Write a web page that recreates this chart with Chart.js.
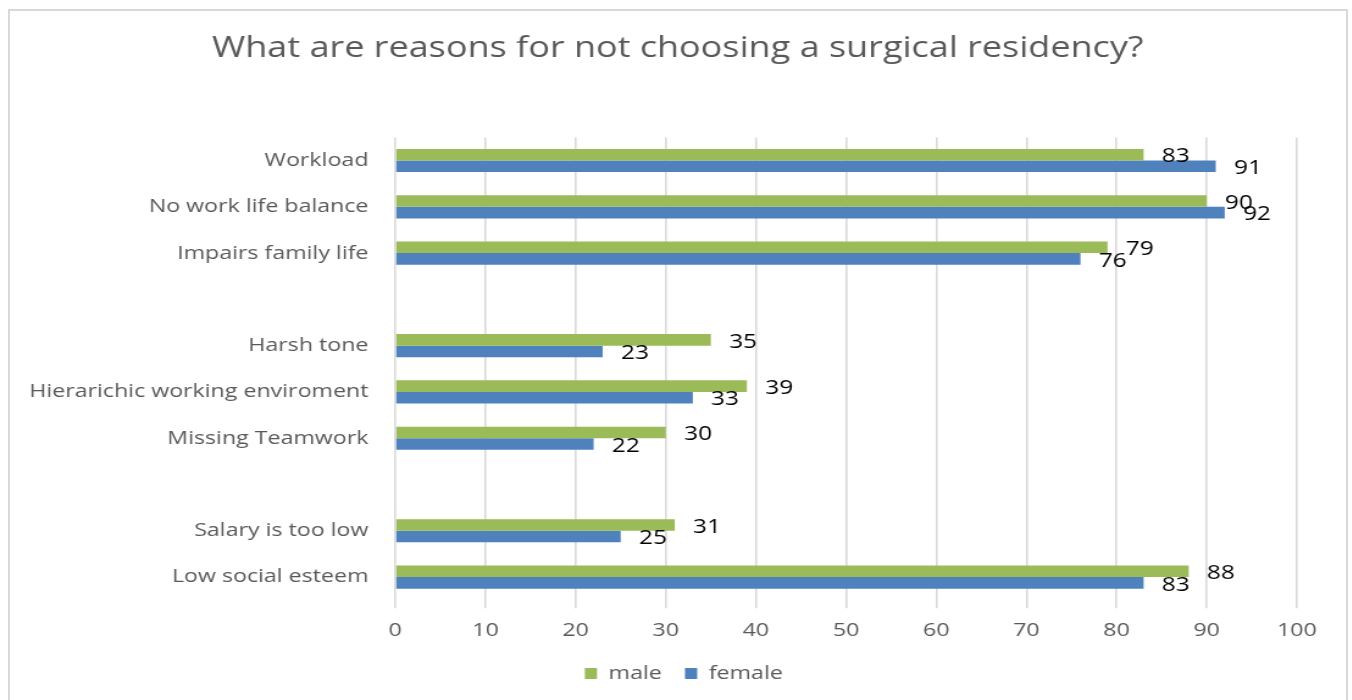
<!DOCTYPE html>
<html>
<head>
<meta charset="utf-8">
<script src="https://cdn.jsdelivr.net/npm/chart.js@4.4.1/dist/chart.umd.min.js"></script>
<style>
  html, body { margin: 0; padding: 0; background: #fff; overflow: hidden; }
  #frame { position: absolute; left: 8px; top: 9px; width: 1340px; height: 710px; border: 2px solid #d9d9d9; box-sizing: border-box; }
  /* the original picture is stretched sideways, so the whole chart is widened the same way */
  #wrap { position: absolute; left: 0; top: 0; width: 1108px; height: 700px; transform: scaleX(1.22); transform-origin: 0 0; }
</style>
</head>
<body>
<div id="frame"></div>
<div id="wrap"><canvas id="chart"></canvas></div>
<script>
// categories (blank entries are the gaps between groups)
const categories = ['Workload', 'No work life balance', 'Impairs family life', '',
  'Harsh tone', 'Hierarichic working enviroment', 'Missing Teamwork', '',
  'Salary is too low', 'Low social esteem'];
const maleValues = [83, 90, 79, null, 35, 39, 30, null, 31, 88];
const femaleValues = [91, 92, 76, null, 23, 33, 22, null, 25, 83];
const xTicks = [0, 10, 20, 30, 40, 50, 60, 70, 80, 90, 100];

const FONT = '"Open Sans", "Noto Sans", sans-serif';

// value labels to the right of each bar
const barLabels = {
  id: 'barLabels',
  afterDatasetsDraw(chart) {
    const ctx = chart.ctx;
    ctx.save();
    ctx.font = '20px ' + FONT;
    ctx.fillStyle = '#000';
    ctx.textAlign = 'left';
    ctx.textBaseline = 'middle';
    chart.data.datasets.forEach((ds, i) => {
      chart.getDatasetMeta(i).data.forEach((bar, j) => {
        const v = ds.data[j];
        if (v === null) return;
        ctx.fillText(String(v), bar.x + 15, bar.y + 2);
      });
    });
    ctx.restore();
  }
};

// title and legend sit a bit right of the canvas centre in the original
const nudge = {
  id: 'nudge',
  afterLayout(chart) {
    chart.titleBlock.left += 24;
    chart.titleBlock.right += 24;
    chart.legend.left += 29;
    chart.legend.right += 29;
  }
};

new Chart(document.getElementById('chart'), {
  type: 'bar',
  data: {
    labels: categories,
    datasets: [
      { label: 'male', data: maleValues, backgroundColor: '#9BBB59', barPercentage: 1.0, categoryPercentage: 0.5 },
      { label: 'female', data: femaleValues, backgroundColor: '#4F81BD', barPercentage: 1.0, categoryPercentage: 0.5 }
    ]
  },
  options: {
    indexAxis: 'y',
    responsive: true,
    maintainAspectRatio: false,
    animation: false,
    layout: { padding: { left: 0, right: 45, top: 0, bottom: 7 } },
    plugins: {
      title: {
        display: true,
        text: 'What are reasons for not choosing a surgical residency?',
        color: '#595959',
        font: { family: FONT, size: 29.5, weight: 'normal' },
        padding: { top: 31, bottom: 71 }
      },
      legend: {
        position: 'bottom',
        labels: {
          color: '#595959',
          font: { family: FONT, size: 19 },
          boxWidth: 10,
          boxHeight: 11,
          padding: 19
        }
      },
      tooltip: { enabled: false }
    },
    scales: {
      x: {
        min: 0,
        max: 100,
        afterBuildTicks(scale) { scale.ticks = xTicks.map(v => ({ value: v })); },
        afterFit(scale) { scale.height -= 8; },
        grid: { color: '#d9d9d9', lineWidth: 1.6, tickLength: 8 },
        border: { display: false },
        ticks: { color: '#595959', font: { family: FONT, size: 19 }, padding: 11 }
      },
      y: {
        afterFit(scale) { scale.width = 324; },
        grid: { display: false, drawTicks: false },
        border: { display: false },
        ticks: { autoSkip: false, color: '#595959', font: { family: FONT, size: 19 }, padding: 22 }
      }
    }
  },
  plugins: [barLabels, nudge]
});
</script>
</body>
</html>
